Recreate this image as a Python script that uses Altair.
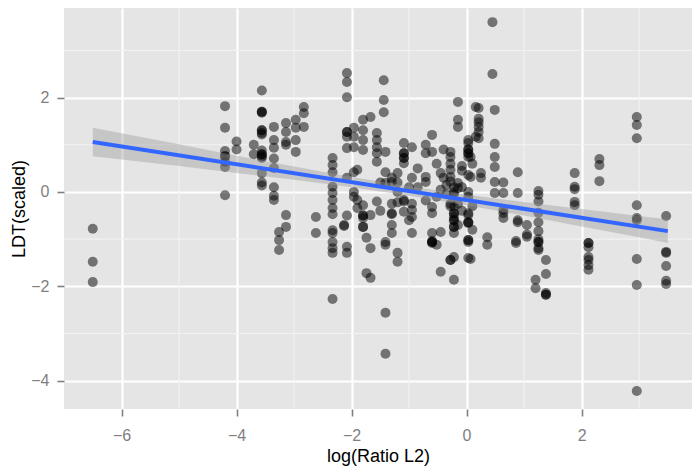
import altair as alt
import pandas as pd

# x positions of the point columns (log(Ratio L2))
col_x = [-6.5, -4.2, -4.0, -3.7, -3.56, -3.35, -3.26, -3.14, -2.97, -2.83, -2.62,
         -2.33, -2.13, -2.08, -1.96, -1.90, -1.80, -1.74, -1.67, -1.56, -1.50, -1.44, -1.41,
         -1.30, -1.20, -1.09, -1.00, -0.95, -0.85, -0.71, -0.60, -0.52, -0.45, -0.40, -0.35,
         -0.28, -0.22, -0.15, -0.08, 0.03, 0.07, 0.10, 0.16, 0.21, 0.25, 0.36, 0.45, 0.49,
         0.64, 0.86, 0.89, 1.05, 1.25, 1.20, 1.38, 1.88, 2.12, 2.31, 2.96, 3.47]

# LDT(scaled) values for each column
col_y = [
    [-0.78, -1.48, -1.91],
    [1.82, 1.36, 0.87, 0.76, 0.76, 0.64, 0.53, -0.07],
    [1.07, 0.90],
    [1.00, 0.80],
    [2.15, 1.70, 1.70, 1.68, 1.31, 1.31, 1.25, 1.22, 0.88, 0.80, 0.80, 0.76, 0.72, 0.40, 0.20, 0.14],
    [1.38, 1.10, 0.94, 0.71, 0.51, 0.10, -0.08, -0.17],
    [-0.85, -1.02, -1.23],
    [1.46, 1.27, 1.06, 1.00, -0.49, -0.74],
    [1.53, 1.36, 1.10, 0.85],
    [1.80, 1.67, 1.38],
    [-0.53, -0.87],
    [0.72, 0.57, 0.42, 0.11, -0.02, -0.17, -0.34, -0.47, -0.81, -0.87, -1.06, -1.19, -1.29, -2.27],
    [-0.70, -0.72],
    [2.52, 2.33, 2.01, 1.27, 1.27, 1.17, 0.93, 0.30, -0.50, -1.16, -1.29],
    [1.36, 1.17, 0.95, 0.42, 0.00, -0.10],
    [0.47, -0.17, -0.34],
    [1.53, 1.31, 1.10, 0.89, -0.28, -0.50, -0.50, -0.55, -0.74, -0.74],
    [-0.97, -1.72],
    [1.59, -0.49, -1.19, -1.82],
    [1.25, 1.10, 0.95, 0.82, 0.64, -0.20],
    [0.20, -0.40],
    [2.37, 1.95, 1.69],
    [0.85, 0.42, 0.19, -1.06, -1.12, -2.56, -3.43],
    [0.30, 0.21, -0.25, -0.45, -0.47, -0.70, -0.87],
    [0.40, 0.20, 0.00, -0.22, -1.29, -1.48],
    [1.04, 0.82, 0.82, 0.72, 0.72, 0.61, -0.17, -0.20, -0.42],
    [0.10, -0.60],
    [0.95, 0.30, -0.25, -0.38, -0.53, -0.87],
    [0.50, 0.10],
    [1.00, 0.82, 0.32, 0.21, -0.18],
    [1.21, 0.85, -0.32, -0.45, -0.87, -1.04, -1.06, -1.06, -1.08],
    [0.60, -0.10, -1.12],
    [0.40, 0.05, -0.85, -1.69],
    [0.90, 0.30],
    [0.15, -0.05],
    [0.85, 0.74, 0.60, 0.47, 0.32, 0.22, -0.25, -0.30, -1.44, -1.44],
    [0.10, 0.00, -0.05, -0.32, -0.45, -0.45, -0.53, -0.60, -0.60, -0.74, -0.74, -0.87, -1.38, -1.86],
    [1.91, 1.53, 1.38, 0.19, 0.08, -0.25, -0.70],
    [0.55, 0.45, 0.10, -0.40],
    [1.10, 1.04, 0.90, 0.90, 0.82, 0.82, 0.74, 0.36, 0.00, -0.10, -0.45, -0.49, -0.64, -0.64,
     -0.66, -1.02, -1.02, -1.06, -1.40],
    [0.74, 0.32, -1.42],
    [0.60, -0.30, -0.80],
    [1.80, 1.17],
    [1.78, 1.55, 1.48, 1.38, 1.27, 1.14],
    [0.40, 0.30],
    [-0.96, -1.12],
    [3.60, 2.50],
    [1.74, 1.02, 0.74, 0.53, 0.21, -0.02],
    [0.20, -0.02, -0.38, -0.45, -0.55],
    [-1.04, -1.08],
    [0.42, -0.02, -0.60, -0.64],
    [-0.70, -0.90, -0.95],
    [0.02, -0.06, -0.20, -0.44, -0.64, -0.83, -1.00, -1.06, -1.06, -1.19, -1.23],
    [-1.86, -2.04],
    [-1.44, -1.74, -2.14, -2.18, -2.18],
    [0.40, 0.11, 0.06, -0.21, -0.28],
    [-1.08, -1.08, -1.17, -1.38, -1.44, -1.55, -1.65],
    [0.70, 0.57, 0.23],
    [1.59, 1.42, 1.14, -0.28, -0.55, -0.60, -1.42, -1.97, -4.22],
    [-0.51, -1.27, -1.29, -1.57, -1.88, -1.95],
]

# fitted line and its confidence band
fit_x = [-6.5, 3.5]
fit_y = [1.06, -0.83]
band_x = [-6.5, -5, -4, -3, -2, -1, 0, 1, 2, 3, 3.5]
band_lo = [0.76, 0.55, 0.40, 0.26, 0.10, -0.08, -0.28, -0.50, -0.73, -0.96, -1.08]
band_hi = [1.36, 1.01, 0.77, 0.54, 0.32, 0.12, -0.06, -0.21, -0.36, -0.51, -0.58]

x_ticks = [-6, -4, -2, 0, 2]
y_ticks = [-4, -2, 0, 2]
x_minor = [-5, -3, -1, 1, 3]
y_minor = [3, 1, -1, -3]

xs, ys = [], []
for cx, cy in zip(col_x, col_y):
    for v in cy:
        xs.append(cx)
        ys.append(v)
pts = pd.DataFrame({"x": xs, "y": ys})
fit = pd.DataFrame({"x": fit_x, "y": fit_y})
band = pd.DataFrame({"x": band_x, "lo": band_lo, "hi": band_hi})

FONT = "Liberation Sans"
xscale = alt.Scale(domain=[-7, 3.92], nice=False, zero=False)
yscale = alt.Scale(domain=[-4.6, 3.9], nice=False, zero=False)

xaxis = alt.Axis(values=x_ticks, title="log(Ratio L2)", grid=True, gridColor="white",
                 gridWidth=2.2, domain=False, tickColor="#7f7f7f", tickWidth=1.6,
                 tickSize=7, labelColor="#7f7f7f", labelFontSize=16, labelFont=FONT,
                 labelPadding=11, titleFont=FONT, titleFontSize=18, titleFontWeight="normal",
                 titleColor="black", titlePadding=4)
yaxis = alt.Axis(values=y_ticks, title="LDT(scaled)", grid=True, gridColor="white",
                 gridWidth=2.2, domain=False, tickColor="#7f7f7f", tickWidth=1.6,
                 tickSize=7, labelColor="#7f7f7f", labelFontSize=16, labelFont=FONT,
                 labelPadding=8, titleFont=FONT, titleFontSize=18, titleFontWeight="normal",
                 titleColor="black", titlePadding=2)

minor_x = alt.Chart(pd.DataFrame({"v": x_minor})).mark_rule(
    color="#f2f2f2", strokeWidth=1.1).encode(x=alt.X("v:Q", scale=xscale, axis=xaxis))
minor_y = alt.Chart(pd.DataFrame({"v": y_minor})).mark_rule(
    color="#f2f2f2", strokeWidth=1.1).encode(y=alt.Y("v:Q", scale=yscale, axis=yaxis))

points = alt.Chart(pts).mark_circle(size=100, color="black", opacity=0.5).encode(
    x=alt.X("x:Q", scale=xscale, axis=xaxis),
    y=alt.Y("y:Q", scale=yscale, axis=yaxis),
)
ribbon = alt.Chart(band).mark_area(color="#999999", opacity=0.4).encode(
    x=alt.X("x:Q", scale=xscale, axis=xaxis),
    y=alt.Y("lo:Q", scale=yscale, axis=yaxis),
    y2="hi:Q",
)
line = alt.Chart(fit).mark_line(color="#3366FF", strokeWidth=4).encode(
    x=alt.X("x:Q", scale=xscale, axis=xaxis),
    y=alt.Y("y:Q", scale=yscale, axis=yaxis),
)

chart = alt.layer(minor_x, minor_y, points, ribbon, line).properties(
    width=628, height=401,
    autosize=alt.AutoSizeParams(type="none"),
    padding={"left": 56, "top": 0, "right": 0, "bottom": 59},
    background="white",
).configure_view(fill="#E5E5E5", stroke=None)

chart.save("out.html", embed_options={"renderer": "svg", "actions": False})
